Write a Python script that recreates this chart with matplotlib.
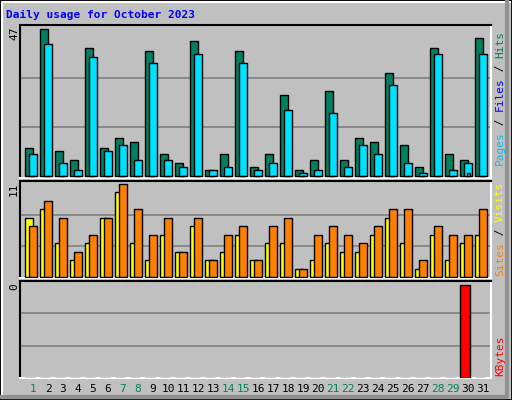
import matplotlib
matplotlib.use("Agg")
import matplotlib.pyplot as plt
from matplotlib.patches import Rectangle

# Daily values
days = list(range(1, 32))
hits = [9, 47, 8, 5, 41, 9, 12, 11, 40, 7, 4, 43, 2, 7, 40, 3,
        7, 26, 2, 5, 27, 5, 12, 11, 33, 10, 3, 41, 7, 5, 44]
files = [7, 42, 4, 2, 38, 8, 10, 5, 36, 5, 3, 39, 2, 3, 36, 2,
         4, 21, 1, 2, 20, 3, 10, 7, 29, 4, 1, 39, 2, 4, 39]
pages = [0] * 29 + [1, 0]
visits = [6, 9, 7, 3, 5, 7, 11, 8, 5, 7, 3, 7, 2, 5, 6, 2,
          6, 7, 1, 5, 6, 5, 4, 6, 8, 8, 2, 6, 5, 5, 8]
sites = [7, 8, 4, 2, 4, 7, 10, 4, 2, 5, 3, 6, 2, 3, 5, 2,
         4, 4, 1, 2, 4, 3, 3, 5, 7, 4, 1, 5, 2, 4, 5]
kbytes = [0] * 29 + [0.4, 0]
weekend = [1, 7, 8, 14, 15, 21, 22, 28, 29]

W, H = 512, 400
fig = plt.figure(figsize=(W / 100, H / 100), dpi=100)
fig.patch.set_facecolor("#C0C0C0")
mono = "DejaVu Sans Mono"

# 3D border
fig.add_artist(Rectangle((0, 0), 1, 1, transform=fig.transFigure, fill=False,
                         edgecolor="black", linewidth=2))
fig.add_artist(plt.Line2D([2 / W, 2 / W, 1 - 2 / W], [2 / H, 1 - 2 / H, 1 - 2 / H],
                          transform=fig.transFigure, color="white", linewidth=1.5))
fig.add_artist(plt.Line2D([2 / W, 1 - 5 / W, 1 - 5 / W], [3 / H, 3 / H, 1 - 2 / H],
                          transform=fig.transFigure, color="#909090", linewidth=3))


def panel(top, bottom):
    ax = fig.add_axes([20 / W, 1 - bottom / H, 471 / W, (bottom - top) / H])
    ax.set_facecolor("#C0C0C0")
    ax.set_xlim(20, 491)
    ax.set_xticks([])
    ax.set_yticks([])
    ax.spines["top"].set_color("black")
    ax.spines["left"].set_color("black")
    ax.spines["bottom"].set_color("white")
    ax.spines["right"].set_color("white")
    for s in ax.spines.values():
        s.set_linewidth(1.5)
    return ax


def bars(ax, vals, offset, width, color):
    xs = [25 + 15 * (d - 1) + offset for d in days]
    ax.bar(xs, vals, width=width, align="edge", color=color,
           edgecolor="black", linewidth=1, zorder=3)


def grid(ax, top):
    for f in (1 / 3, 2 / 3):
        ax.axhline(top * f, color="#808080", linewidth=1.2, zorder=1)


def side_label(parts, x, ybottom):
    y = ybottom
    for txt, col in parts:
        fig.text(x / W, 1 - y / H, txt, rotation=90, color=col, family=mono,
                 fontsize=8, ha="center", va="bottom")
        y -= 6.7 * len(txt)


# top: hits / files / pages
ax1 = panel(25, 178)
ax1.set_ylim(-0.65, 48.2)
grid(ax1, max(hits))
bars(ax1, hits, 0, 7.5, "#008060")
bars(ax1, files, 4, 8, "#00E0FF")
bars(ax1, pages, 7, 3, "#00C0FF")

# middle: visits / sites
ax2 = panel(181, 278)
ax2.set_ylim(-0.1, 11.35)
grid(ax2, max(visits))
bars(ax2, sites, 0, 7.5, "#FFFF00")
bars(ax2, visits, 4, 8, "#FF8000")

# bottom: kbytes
ax3 = panel(281, 378)
ax3.set_ylim(0, max(kbytes) * 1.04)
grid(ax3, max(kbytes) * 1.04)
bars(ax3, kbytes, 0, 10, "#FF0000")

fig.text(6 / W, 1 - 15 / H, "Daily usage for October 2023", color="#0000FF",
         family=mono, fontsize=8, fontweight="bold", ha="left", va="center")

for label, y in (("47", 27), ("11", 183), ("0", 283)):
    fig.text(14 / W, 1 - y / H, label, rotation=90, family=mono, fontsize=8,
             ha="center", va="top")

for d in days:
    col = "#00805F" if d in weekend else "black"
    fig.text((33 + 15 * (d - 1)) / W, 1 - 389 / H, str(d), color=col,
             family=mono, fontsize=8, ha="center", va="center")

side_label([("Pages", "#00C0FF"), (" / ", "black"), ("Files", "#0000FF"),
            (" / ", "black"), ("Hits", "#008060")], 500, 165)
side_label([("Sites", "#FF8000"), (" / ", "black"), ("Visits", "#FFFF00")], 500, 276)
side_label([("KBytes", "#FF0000")], 500, 376)

fig.savefig("out.png", dpi=100, facecolor=fig.get_facecolor())
